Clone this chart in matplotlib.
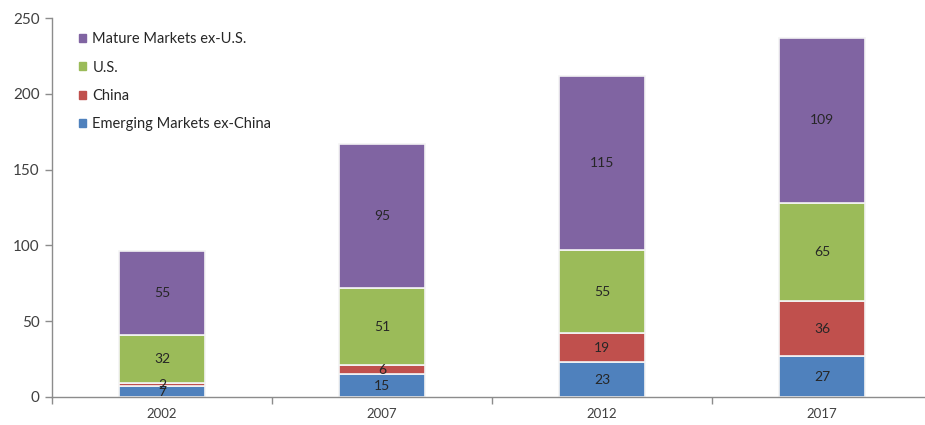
import matplotlib
matplotlib.use("Agg")
import matplotlib.pyplot as plt
from matplotlib.patches import Rectangle

plt.rcParams['font.family'] = ['Lato', 'DejaVu Sans']

years = ["2002", "2007", "2012", "2017"]
emerging_ex_china = [7, 15, 23, 27]
china = [2, 6, 19, 36]
us = [32, 51, 55, 65]
mature_ex_us = [55, 95, 115, 109]

series = [
    ("Emerging Markets ex-China", emerging_ex_china, "#4F81BD"),
    ("China", china, "#C0504D"),
    ("U.S.", us, "#9BBB59"),
    ("Mature Markets ex-U.S.", mature_ex_us, "#8064A2"),
]

fig = plt.figure(figsize=(9.25, 4.25), dpi=100)
ax = fig.add_axes([52 / 925, 28 / 425, 880 / 925, 379 / 425])

x = list(range(len(years)))
bottom = [0] * len(years)
handles = []
for name, vals, color in series:
    ax.bar(x, vals, width=0.395, bottom=bottom, color=color,
           edgecolor="#f4f4f4", linewidth=1.2, label=name)
    for xi, b, v in zip(x, bottom, vals):
        ax.text(xi, b + v / 2, str(v), ha="center", va="center",
                fontsize=10, color="#262626")
    bottom = [b + v for b, v in zip(bottom, vals)]
    handles.append(Rectangle((0, 0), 1, 1, color=color))

ax.set_xlim(-0.5, 3.5)
ax.set_ylim(0, 250)
ax.set_yticks([0, 50, 100, 150, 200, 250])
ax.set_xticks(x)
ax.set_xticklabels(years)
ax.set_xticks([-0.5, 0.5, 1.5, 2.5, 3.5], minor=True)
ax.tick_params(axis="x", which="major", length=0, pad=8, labelsize=9.5, colors="#404040")
ax.tick_params(axis="x", which="minor", length=5, color="#8c8c8c", width=1)
ax.tick_params(axis="y", length=5, color="#8c8c8c", width=1, labelsize=11,
               colors="#404040", pad=4)

for s in ["top", "right"]:
    ax.spines[s].set_visible(False)
for s in ["left", "bottom"]:
    ax.spines[s].set_color("#8c8c8c")
    ax.spines[s].set_linewidth(1)

leg = ax.legend(handles[::-1], [s[0] for s in series][::-1], loc="upper left",
                bbox_to_anchor=(0.016, 0.997), frameon=False, fontsize=10.5,
                handlelength=0.45, handleheight=0.45, handletextpad=0.45,
                labelspacing=0.98)
for t in leg.get_texts():
    t.set_color("#262626")

fig.savefig("out.png", dpi=100)
